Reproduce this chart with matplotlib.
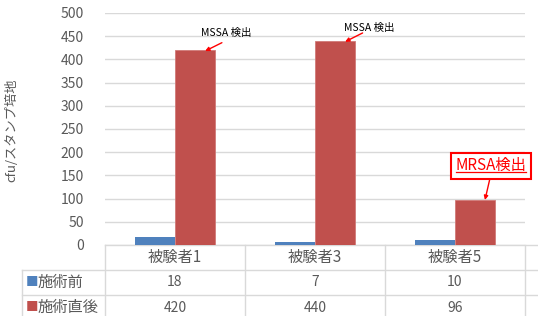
import matplotlib
matplotlib.use("Agg")
import matplotlib.pyplot as plt
import matplotlib.transforms as mtransforms
from matplotlib.lines import Line2D
import numpy as np

plt.rcParams['font.family'] = ['Noto Sans CJK JP', 'DejaVu Sans']

categories = ["被験者1", "被験者3", "被験者5"]
series_names = ["施術前", "施術直後"]
before = [18, 7, 10]
after = [420, 440, 96]
yticks = [0, 50, 100, 150, 200, 250, 300, 350, 400, 450, 500]
ylabel = "cfu/スタンプ培地"
colors = ["#4F81BD", "#C0504D"]
gray = "#595959"

W, H = 538, 316
fig = plt.figure(figsize=(W / 100, H / 100), dpi=100)
left, right, top, bottom = 105, 525, 13, 245
ax = fig.add_axes([left / W, (H - bottom) / H, (right - left) / W, (bottom - top) / H])

x = np.arange(len(categories))
bw = 0.285
ax.bar(x - bw / 2, before, bw, color=colors[0], zorder=3)
ax.bar(x + bw / 2, after, bw, color=colors[1], edgecolor="#D07A78", linewidth=0.6, zorder=3)

ax.set_xlim(-0.5, len(categories) - 0.5)
ax.set_ylim(0, 500)
ax.set_yticks(yticks)
ax.set_yticklabels([str(v) for v in yticks], fontsize=10, color=gray)
ax.tick_params(axis='y', length=0, pad=15)
ax.set_xticks([])
for s in ax.spines.values():
    s.set_visible(False)
ax.grid(axis='y', color="#D9D9D9", linewidth=1.0, zorder=0)
ax.set_axisbelow(True)
fig.text(12 / W, 1 - 130 / H, ylabel, rotation=90, fontsize=9.5, color=gray,
         ha='center', va='center')

# Data table below the axis
tr = mtransforms.blended_transform_factory(ax.transData, ax.transAxes)
axh = bottom - top
row = 25 / axh
legx0 = -0.5 - (left - 22) / 140
lc = "#D9D9D9"
def hline(x0, x1, y):
    ax.add_line(Line2D([x0, x1], [y, y], transform=tr, color=lc, lw=1.0, clip_on=False))
def vline(xx, y0, y1):
    ax.add_line(Line2D([xx, xx], [y0, y1], transform=tr, color=lc, lw=1.0, clip_on=False))
xr = -0.5 + (W - left) / 140
hline(-0.5, xr, 0)
hline(legx0, xr, -row)
hline(legx0, xr, -2 * row)
vline(legx0, -row, -3 * row)
for b in np.arange(len(categories)) - 0.5:
    vline(b, 0, -3 * row)
vline(len(categories) - 0.5, 0, -3 * row)

for i, c in enumerate(categories):
    ax.text(i, -0.5 * row, c, transform=tr, ha='center', va='center', fontsize=11, color=gray)
    ax.text(i, -1.5 * row, str(before[i]), transform=tr, ha='center', va='center', fontsize=10, color=gray)
    ax.text(i, -2.5 * row, str(after[i]), transform=tr, ha='center', va='center', fontsize=10, color=gray)
for k, name in enumerate(series_names):
    yy = -(1.5 + k) * row
    ax.text(legx0 + 0.03, yy, "■", transform=tr, ha='left', va='center', fontsize=9, color=colors[k])
    ax.text(legx0 + 0.11, yy, name, transform=tr, ha='left', va='center', fontsize=11, color=gray)

# Annotations
arrow = dict(arrowstyle="-|>", color="red", lw=1.0, mutation_scale=6, shrinkA=0, shrinkB=0)
ax.text(0.365, 458, "MSSA 検出", fontsize=7.5, color="black", ha='center', va='center')
ax.annotate("", xy=(0.215, 418), xytext=(0.335, 436), arrowprops=arrow)
ax.text(1.39, 468, "MSSA 検出", fontsize=7.5, color="black", ha='center', va='center')
ax.annotate("", xy=(1.215, 438), xytext=(1.34, 457), arrowprops=arrow)
t = ax.text(2.257, 171, "MRSA検出", fontsize=11, color="#FF0000", ha='center', va='center',
            bbox=dict(boxstyle="square,pad=0.3", fc="white", ec="#FF0000", lw=1.5), zorder=5)
ax.annotate("", xy=(2.214, 97), xytext=(2.25, 144), arrowprops=arrow)

fig.canvas.draw()
r = fig.canvas.get_renderer()
bb = t.get_window_extent(r)
yu = bb.y0 + 2
fig.add_artist(Line2D([bb.x0 / W, bb.x1 / W], [yu / H, yu / H],
                      transform=fig.transFigure, color="#FF0000", lw=0.9, zorder=6))

fig.savefig("out.png", dpi=100)
